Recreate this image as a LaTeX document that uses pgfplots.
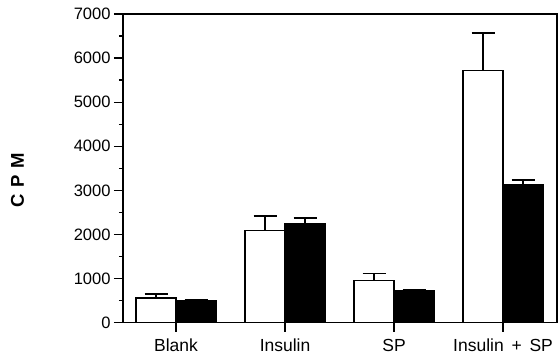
\documentclass[border=0pt]{standalone}
\usepackage{fontspec}
\setmainfont{Liberation Sans}
\usepackage{pgfplots}
\pgfplotsset{compat=1.18}
\begin{document}
\begin{tikzpicture}
\begin{axis}[
  at={(0,0)}, anchor=south west,
  scale only axis, width=434pt, height=308.7pt,
  xmin=-0.487, xmax=3.495, ymin=0, ymax=7000,
  ybar, bar width=40pt,
  xtick={0,1,2,3}, xticklabels={Blank,Insulin,SP,Insulin\ \,+\ \,SP},
  ytick={0,1000,...,7000}, minor y tick num=1,
  xtick pos=left, ytick pos=left, tick align=outside,
  major tick length=9pt, minor tick length=4pt,
  axis line style={line width=1.6pt},
  every tick/.style={black, line width=1.4pt},
  /pgf/number format/assume math mode=true,
  /pgf/number format/1000 sep={},
  y tick label style={font=\fontsize{16.5}{18}\selectfont},
  x tick label style={font=\fontsize{17.5}{19}\selectfont, yshift=-4pt},
  ylabel={\fontsize{18.5}{20}\selectfont\bfseries C\hspace{0.35em}P\hspace{0.35em}M},
  ylabel style={at={(axis description cs:-0.243,0.462)}, anchor=center},
  error bars/error bar style={line width=1.6pt, black},
  error bars/error mark options={line width=1.6pt, black, mark size=11.5pt, rotate=90},
]
\addplot[draw=black, fill=white, line width=1.6pt, bar shift=-20pt,
  error bars/.cd, y dir=plus, y explicit]
  coordinates {(0,555) +- (0,90) (1,2090) +- (0,335) (2,955) +- (0,165) (3,5715) +- (0,850)};
\addplot[draw=black, fill=black, line width=1.6pt, bar shift=20pt,
  error bars/.cd, y dir=plus, y explicit]
  coordinates {(0,490) +- (0,25) (1,2235) +- (0,140) (2,730) +- (0,20) (3,3120) +- (0,120)};
\end{axis}
\pgfresetboundingbox
\path (-123pt,-39.3pt) rectangle (435pt,322.7pt);
\end{tikzpicture}
\end{document}
